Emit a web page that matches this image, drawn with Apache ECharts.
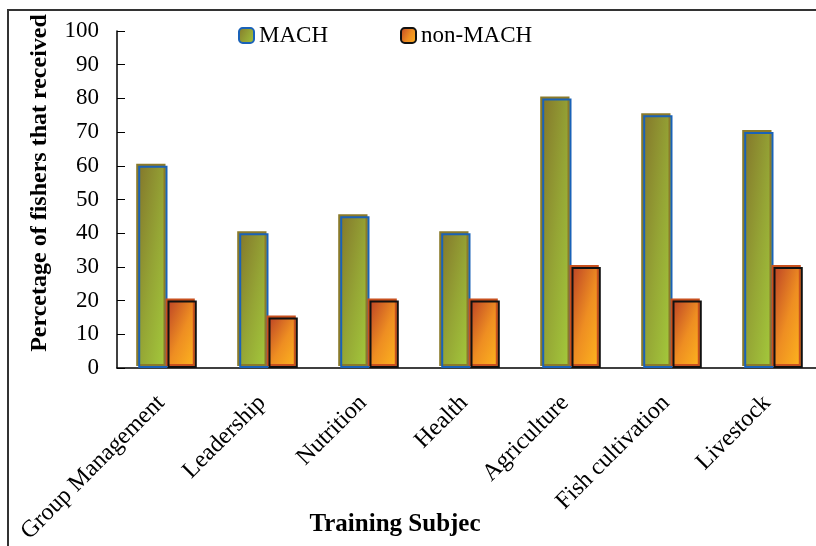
<!DOCTYPE html>
<html>
<head>
<meta charset="utf-8">
<script src="https://cdn.jsdelivr.net/npm/echarts@6/dist/echarts.min.js"></script>
<style>html,body{margin:0;padding:0;background:#fff;}#chart{width:816px;height:546px;}</style>
</head>
<body>
<div id="chart"></div>
<script>
const categories = ['Group Management', 'Leadership', 'Nutrition', 'Health', 'Agriculture', 'Fish cultivation', 'Livestock'];
const machValues = [60, 40, 45, 40, 80, 75, 70];
const nonMachValues = [20, 15, 20, 20, 30, 20, 30];
const seriesNames = ['MACH', 'non-MACH'];
const yAxisTitle = 'Percetage of fishers that received';
const xAxisTitle = 'Training Subjec';

const FONT = '"Liberation Serif", "Times New Roman", serif';
const chart = echarts.init(document.getElementById('chart'));

const GRID = { left: 117, top: 31, right: -8, bottom: 178 };
const plotH = 546 - GRID.top - GRID.bottom;
const barW = (816 - GRID.left - GRID.right) / categories.length * 0.29;

const greenStops = [
  { offset: 0, color: '#84772b' },
  { offset: 0.5, color: '#95a535' },
  { offset: 1, color: '#a5cd3c' }
];
const orangeStops = [
  { offset: 0, color: '#bc4226' },
  { offset: 0.5, color: '#ee8e22' },
  { offset: 1, color: '#ffb91e' }
];
// diagonal gradient whose isolines run corner to corner (bbox-normalised)
function diagGrad(v, stops) {
  const h = Math.max(1, v / 100 * plotH), w = barW;
  const x2 = 2 * h * h / (h * h + w * w), y2 = 2 * w * w / (h * h + w * w);
  return new echarts.graphic.LinearGradient(0, 0, x2, y2, stops);
}

chart.setOption({
  animation: false,
  backgroundColor: '#fff',
  grid: Object.assign({ outerBoundsMode: 'none', containLabel: false }, GRID),
  legend: {
    left: 233, top: 19,
    itemWidth: 15, itemHeight: 15, itemGap: 72,
    textStyle: { fontFamily: FONT, fontSize: 23, color: '#000' },
    data: seriesNames
  },
  xAxis: {
    type: 'category',
    data: categories,
    axisLine: { lineStyle: { color: '#000', width: 1.5 } },
    axisTick: { inside: true, length: 8, lineStyle: { color: '#333' } },
    axisLabel: { interval: 0, rotate: 45, margin: 25, padding: [0, 9, 0, 0], fontFamily: FONT, fontSize: 24, color: '#000' }
  },
  yAxis: {
    type: 'value', min: 0, max: 100, interval: 10,
    axisLine: { show: true, lineStyle: { color: '#000', width: 1.5 } },
    axisTick: { show: true, inside: true, length: 8, lineStyle: { color: '#000' } },
    splitLine: { show: false },
    axisLabel: { margin: 18, fontFamily: FONT, fontSize: 23, color: '#000' }
  },
  series: [
    {
      name: seriesNames[0], type: 'bar',
      data: machValues.map(v => ({ value: v, itemStyle: { color: diagGrad(v, greenStops) } })),
      barWidth: '29%', barGap: '0%',
      itemStyle: { color: diagGrad(12, greenStops), borderColor: '#1a62b8', borderWidth: 2,
        shadowColor: '#8a7a2a', shadowOffsetX: -2, shadowOffsetY: -2, shadowBlur: 0 }
    },
    {
      name: seriesNames[1], type: 'bar',
      data: nonMachValues.map(v => ({ value: v, itemStyle: { color: diagGrad(v, orangeStops) } })),
      barWidth: '29%',
      itemStyle: { color: diagGrad(12, orangeStops), borderColor: '#111', borderWidth: 2,
        shadowColor: '#c8501e', shadowOffsetX: -2, shadowOffsetY: -2, shadowBlur: 0 }
    }
  ],
  graphic: [
    { type: 'rect', shape: { x: 8, y: 10, width: 830, height: 560 }, style: { fill: 'none', stroke: '#333', lineWidth: 2 }, silent: true, z: 0 },
    { type: 'text', x: 40, y: 183, rotation: Math.PI / 2,
      style: { text: yAxisTitle, fontFamily: FONT, fontSize: 24, fontWeight: 'bold', fill: '#000', align: 'center', verticalAlign: 'middle' } },
    { type: 'text', x: 395, y: 525,
      style: { text: xAxisTitle, fontFamily: FONT, fontSize: 25, fontWeight: 'bold', fill: '#000', align: 'center', verticalAlign: 'middle' } }
  ]
});
</script>
</body>
</html>
